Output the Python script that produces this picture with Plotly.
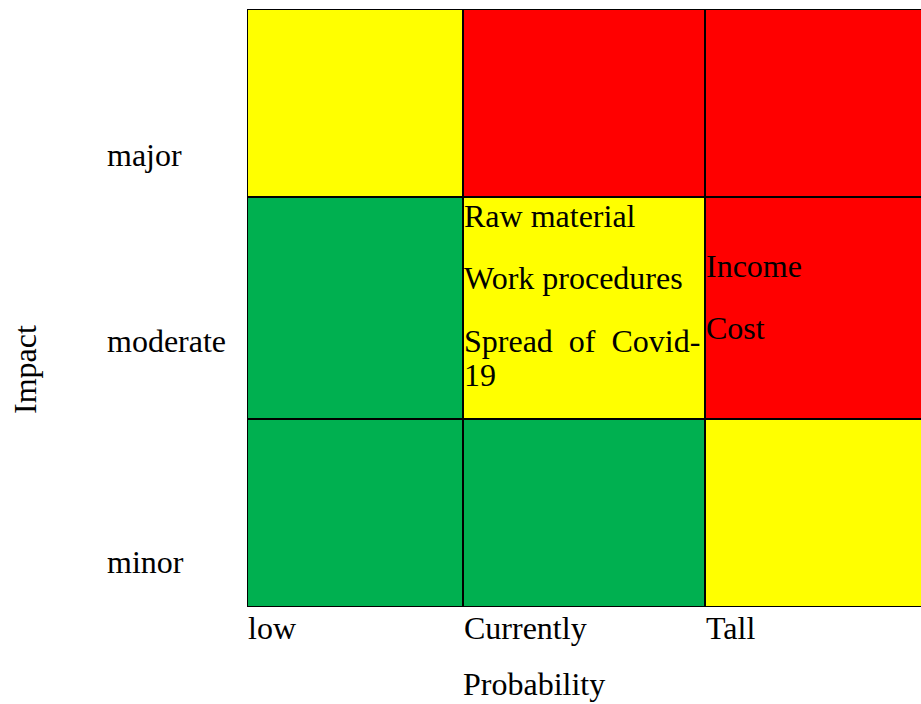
import plotly.graph_objects as go

# ---- data ----
prob_labels = ["low", "Currently", "Tall"]
impact_labels = ["minor", "moderate", "major"]
# risk level per cell: 0 = low (green), 1 = medium (yellow), 2 = high (red)
risk_minor = [0, 0, 1]
risk_moderate = [0, 1, 2]
risk_major = [1, 2, 2]
items_moderate_currently = ["Raw material", "Work procedures", "Spread\u00a0 of\u00a0 Covid-", "19"]
items_moderate_tall = ["Income", "Cost"]
x_title = "Probability"
y_title = "Impact"

# ---- layout constants ----
W, H = 921, 704
PL, PT, PB = 247, 9, 607  # plot area edges in window pixels
ML, MT = PL, PT
MB = H - PB
col_w = [216, 242, 260]
row_h = [188, 222, 188]
x_edges = [0]
for w in col_w:
    x_edges.append(x_edges[-1] + w)
y_edges = [0]
for h in row_h:
    y_edges.append(y_edges[-1] + h)
plot_w = W - PL
plot_h = PB - PT


def px_x(px):
    return (px - PL) / plot_w


def px_y(py):
    return (PB - py) / plot_h


FONT = "Liberation Serif, Times New Roman, serif"
FS = 32
GREEN, YELLOW, RED = "#00B050", "#FFFF00", "#FF0000"
tf = dict(size=FS, family=FONT, color="black")

z = [risk_minor, risk_moderate, risk_major]

fig = go.Figure(go.Heatmap(
    x=x_edges, y=y_edges, z=z, zmin=0, zmax=2,
    colorscale=[[0, GREEN], [0.25, GREEN], [0.25, YELLOW], [0.75, YELLOW], [0.75, RED], [1, RED]],
    showscale=False, hoverinfo="skip",
))

shapes = []
for i in range(3):
    for j in range(3):
        shapes.append(dict(type="rect", xref="x", yref="y",
                           x0=x_edges[j], x1=x_edges[j + 1], y0=y_edges[i], y1=y_edges[i + 1],
                           line=dict(color="black", width=2), fillcolor="rgba(0,0,0,0)", layer="above"))

ann = []
# x category labels, left-aligned at column edges
for j, lab in enumerate(prob_labels):
    ann.append(dict(x=x_edges[j], y=px_y(628), xref="x", yref="paper", text=lab, showarrow=False,
                    xanchor="left", yanchor="middle", xshift=-1, font=tf))
# y category labels
row_label_offset = [45, 78, 42]  # above row bottom
for i, lab in enumerate(impact_labels):
    ann.append(dict(x=px_x(105), y=y_edges[i] + row_label_offset[i], xref="paper", yref="y", text=lab,
                    showarrow=False, xanchor="left", yanchor="middle", font=tf))

# cell items
mod_top = y_edges[2]
offs_cur = [19, 81, 144, 178]
for t, o in zip(items_moderate_currently, offs_cur):
    ann.append(dict(x=x_edges[1], y=mod_top - o, xref="x", yref="y", text=t, showarrow=False,
                    xanchor="left", yanchor="middle", xshift=-1, font=tf))
offs_tall = [69, 131]
for t, o in zip(items_moderate_tall, offs_tall):
    ann.append(dict(x=x_edges[2], y=mod_top - o, xref="x", yref="y", text=t, showarrow=False,
                    xanchor="left", yanchor="middle", xshift=-1, font=tf))

# axis titles
ann.append(dict(x=px_x(534), y=px_y(684), xref="paper", yref="paper", text=x_title,
                showarrow=False, xanchor="center", yanchor="middle", font=tf))
ann.append(dict(x=px_x(25), y=px_y(370), xref="paper", yref="paper", text=y_title, textangle=-90,
                showarrow=False, xanchor="center", yanchor="middle", font=tf))

fig.update_layout(
    width=W, height=H, autosize=False,
    margin=dict(l=ML, r=0, t=MT, b=MB, pad=0),
    paper_bgcolor="white", plot_bgcolor="white",
    xaxis=dict(range=[0, plot_w], visible=False, fixedrange=True),
    yaxis=dict(range=[0, plot_h], visible=False, fixedrange=True),
    shapes=shapes, annotations=ann, showlegend=False,
)

fig.write_html("out.html", config={"displayModeBar": False, "staticPlot": True},
               post_script="document.body.style.margin='0';document.body.style.overflow='hidden';")
